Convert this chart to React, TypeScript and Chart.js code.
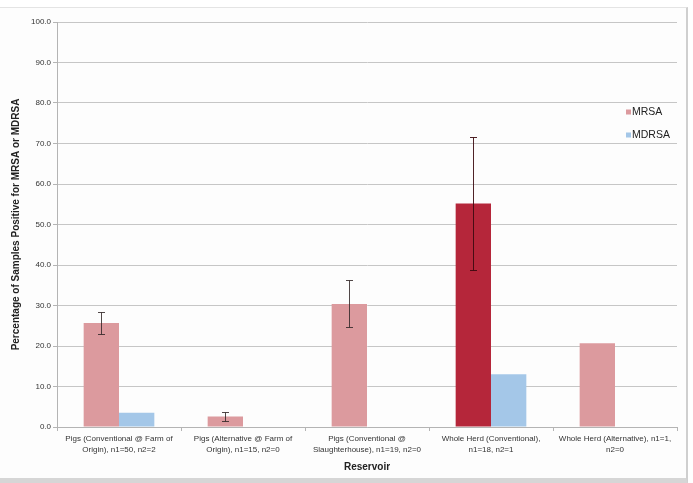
import { useEffect, useRef } from "react";
import { Chart, registerables } from "chart.js";

Chart.register(...registerables);

// Reservoir categories (multi-line tick labels)
const categories: string[][] = [
  ["Pigs (Conventional @ Farm of", "Origin), n1=50, n2=2"],
  ["Pigs (Alternative @ Farm of", "Origin), n1=15, n2=0"],
  ["Pigs (Conventional @", "Slaughterhouse), n1=19, n2=0"],
  ["Whole Herd (Conventional),", "n1=18, n2=1"],
  ["Whole Herd (Alternative), n1=1,", "n2=0"],
];

// Percentage of samples positive
const mrsaValues = [25.7, 2.6, 30.4, 55.2, 20.7];
const mdrsaValues = [3.5, 0, 0, 13.0, 0];

// Error bar half-widths for MRSA (0 = no error bar)
const mrsaErrors = [2.8, 1.1, 5.8, 16.5, 0];

const seriesNames = ["MRSA", "MDRSA"];

const yMin = 0;
const yMax = 100;
const yStep = 10;

const PINK = "#dc9a9e";
const DARK_RED = "#b5263a";
const BLUE = "#a4c7e8";
const FONT = "'Liberation Sans', Arial, Helvetica, sans-serif";
const highlightIndex = 3;

const errorBarsPlugin = {
  id: "errorBars",
  afterDatasetsDraw(chart: any) {
    const { ctx } = chart;
    const meta = chart.getDatasetMeta(0);
    const yScale = chart.scales.y;
    ctx.save();
    ctx.lineWidth = 1;
    meta.data.forEach((bar: any, i: number) => {
      const err = mrsaErrors[i];
      if (!err) return;
      const v = mrsaValues[i];
      const x = Math.round(bar.x) + 0.5;
      const yHi = Math.round(yScale.getPixelForValue(v + err)) + 0.5;
      const yLo = Math.round(yScale.getPixelForValue(v - err)) + 0.5;
      ctx.strokeStyle = i === highlightIndex ? "rgba(60,10,15,0.9)" : "rgba(50,40,40,0.85)";
      ctx.beginPath();
      ctx.moveTo(x, yHi);
      ctx.lineTo(x, yLo);
      ctx.moveTo(x - 3.5, yHi);
      ctx.lineTo(x + 3.5, yHi);
      ctx.moveTo(x - 3.5, yLo);
      ctx.lineTo(x + 3.5, yLo);
      ctx.stroke();
    });
    ctx.restore();
  },
};

const legendPlugin = {
  id: "sideLegend",
  afterDraw(chart: any) {
    const { ctx, chartArea } = chart;
    const colors = [PINK, BLUE];
    const x = chartArea.right - 51;
    ctx.save();
    ctx.font = `10.5px ${FONT}`;
    ctx.textBaseline = "middle";
    ctx.textAlign = "left";
    seriesNames.forEach((name, i) => {
      const y = chartArea.top + 90 + i * 23;
      ctx.fillStyle = colors[i];
      ctx.fillRect(x, y - 2.5, 5, 5);
      ctx.fillStyle = "#222";
      ctx.fillText(name, x + 6, y);
    });
    ctx.restore();
  },
};

export default function App() {
  const canvasRef = useRef<HTMLCanvasElement | null>(null);

  useEffect(() => {
    const canvas = canvasRef.current;
    if (!canvas) return;
    const chart = new Chart(canvas, {
      type: "bar",
      data: {
        labels: categories,
        datasets: [
          {
            label: seriesNames[0],
            data: mrsaValues,
            backgroundColor: (c: any) => (c.dataIndex === highlightIndex ? DARK_RED : PINK),
            borderWidth: 0,
            categoryPercentage: 0.57,
            barPercentage: 1,
          },
          {
            label: seriesNames[1],
            data: mdrsaValues,
            backgroundColor: BLUE,
            borderWidth: 0,
            categoryPercentage: 0.57,
            barPercentage: 1,
          },
        ],
      },
      options: {
        animation: false,
        responsive: false,
        maintainAspectRatio: false,
        layout: { padding: { top: 22, right: 16, left: 0, bottom: 0 } },
        plugins: {
          legend: { display: false },
          tooltip: { enabled: false },
          title: { display: false },
        },
        scales: {
          x: {
            afterFit: (s: any) => {
              s.height = 56;
            },
            grid: {
              drawOnChartArea: false,
              drawTicks: true,
              tickLength: 4,
              color: "#b4b4b4",
              offset: true,
            },
            border: { display: true, color: "#b4b4b4", width: 1 },
            ticks: {
              color: "#333",
              padding: 2,
              maxRotation: 0,
              autoSkip: false,
              font: { family: FONT, size: 8, lineHeight: 1.4 },
            },
            title: {
              display: true,
              text: "Reservoir",
              color: "#222",
              font: { family: FONT, size: 10, weight: "bold", lineHeight: 1.2 },
              padding: { top: 0, bottom: 10 },
            },
          },
          y: {
            min: yMin,
            max: yMax,
            afterFit: (s: any) => {
              s.width = 57;
            },
            grid: {
              color: "#c6c6c6",
              lineWidth: 1,
              drawTicks: true,
              tickLength: 4,
              tickColor: "#b4b4b4",
            },
            border: { display: true, color: "#b4b4b4", width: 1 },
            ticks: {
              stepSize: yStep,
              color: "#333",
              padding: 2,
              font: { family: FONT, size: 8 },
              callback: (v: any) => Number(v).toFixed(1),
            },
            title: {
              display: true,
              text: "Percentage of Samples Positive for MRSA or MDRSA",
              color: "#222",
              font: { family: FONT, size: 10, weight: "bold", lineHeight: 1.2 },
              padding: { top: 10, bottom: 0 },
            },
          },
        },
      },
      plugins: [errorBarsPlugin, legendPlugin],
    } as any);
    return () => chart.destroy();
  }, []);

  return (
    <div style={{ position: "fixed", left: 0, top: 0, width: 693, height: 483, background: "#fff", overflow: "hidden" }}>
      <div
        style={{
          position: "absolute",
          left: 0,
          top: 7,
          width: 686,
          height: 470,
          background: "#fdfdfd",
          borderTop: "1px solid #e4e4e4",
          borderRight: "2px solid #cfcfcf",
          borderBottom: "6px solid #d6d6d6",
        }}
      />
      <canvas
        ref={canvasRef}
        width={693}
        height={483}
        style={{ position: "absolute", left: 0, top: 0, width: 693, height: 483 }}
      />
    </div>
  );
}
